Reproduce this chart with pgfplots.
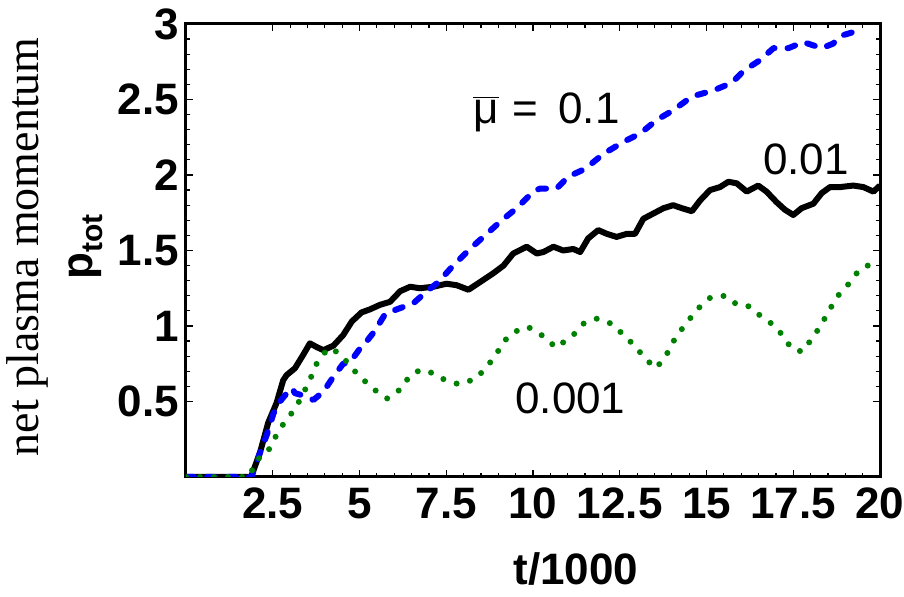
\documentclass[border=0pt]{standalone}
\usepackage{fontspec}
\setmainfont{Liberation Sans}
\newfontfamily\seriffont{Liberation Serif}
\usepackage{pgfplots}
\pgfplotsset{compat=1.18}
\definecolor{mgreen}{rgb}{0,0.5,0}
\begin{document}
\begin{tikzpicture}
\path[use as bounding box] (-93pt,-60pt) rectangle (359pt,238.5pt);
\begin{axis}[
  scale only axis, width=347pt, height=226.5pt,
  xmin=0, xmax=20, ymin=0, ymax=3,
  xtick={2.5,5,7.5,10,12.5,15,17.5,20},
  ytick={0.5,1,1.5,2,2.5,3},
  minor x tick num=4, minor y tick num=4,
  tick align=inside, tick pos=both,
  major tick length=3.5pt, minor tick length=2pt,
  every tick/.style={line width=0.6pt, black},
  axis line style={line width=1.5pt},
  /pgf/number format/assume math mode=true,
  ticklabel style={font=\fontsize{22}{24}\selectfont\bfseries},
  xticklabel style={yshift=-2pt},
  yticklabel style={xshift=0pt},
  clip=true,
]
\addplot[black, line width=3pt, line join=round] coordinates {
(0,0) (1.85,0) (1.89,0.01) (2.13,0.16) (2.37,0.36) (2.61,0.49) (2.80,0.64) (2.90,0.675) (3.14,0.72) (3.38,0.81) (3.57,0.885) (3.77,0.86) (3.96,0.84) (4.25,0.87) (4.53,0.94) (4.78,1.03) (5.06,1.09) (5.30,1.11) (5.59,1.14) (5.88,1.16) (6.17,1.23) (6.46,1.26) (6.74,1.25) (7.13,1.26) (7.51,1.28) (7.80,1.27) (8.14,1.24) (8.47,1.29) (8.86,1.35) (9.15,1.40) (9.43,1.48) (9.82,1.525) (10.11,1.48) (10.30,1.49) (10.59,1.525) (10.87,1.50) (11.16,1.51) (11.36,1.49) (11.59,1.58) (11.88,1.635) (12.13,1.61) (12.41,1.59) (12.70,1.61) (12.94,1.61) (13.18,1.71) (13.47,1.745) (13.76,1.78) (14.04,1.80) (14.29,1.78) (14.58,1.76) (14.81,1.83) (15.10,1.90) (15.39,1.92) (15.63,1.955) (15.87,1.945) (16.16,1.89) (16.49,1.93) (16.73,1.89) (17.02,1.82) (17.26,1.77) (17.50,1.735) (17.74,1.78) (18.08,1.81) (18.32,1.88) (18.56,1.92) (18.85,1.92) (19.23,1.93) (19.52,1.92) (19.81,1.89) (20,1.93)
};
\addplot[blue, line width=3pt, line cap=round, line join=round, dash pattern=on 4pt off 6.5pt] coordinates {
(0,0) (1.88,0) (1.94,0.035) (2.13,0.16) (2.33,0.28) (2.52,0.42) (2.71,0.50) (2.85,0.54) (3.05,0.59) (3.14,0.555) (3.52,0.53) (3.67,0.51) (3.96,0.565) (4.25,0.665) (4.53,0.75) (4.73,0.76) (5.01,0.85) (5.16,0.885) (5.45,0.97) (5.74,1.08) (6.07,1.11) (6.55,1.15) (6.94,1.23) (7.27,1.29) (7.66,1.39) (8.18,1.51) (8.57,1.59) (9.10,1.70) (9.53,1.78) (10.01,1.89) (10.20,1.91) (10.68,1.91) (11.02,1.99) (11.50,2.04) (12.03,2.14) (12.61,2.22) (13.09,2.275) (13.57,2.365) (14.05,2.43) (14.58,2.52) (15.20,2.56) (15.73,2.61) (16.07,2.69) (16.54,2.76) (16.93,2.84) (17.36,2.84) (17.79,2.88) (18.32,2.84) (18.65,2.87) (18.85,2.92) (19.28,2.95) (19.40,2.97)
};
\addplot[mgreen, line width=3pt, line cap=round, dash pattern=on 0pt off 7pt] coordinates {
(0,0) (1.80,0) (2.08,0.12) (2.34,0.16) (2.54,0.25) (2.74,0.33) (3.02,0.415) (3.19,0.47) (3.38,0.555) (3.57,0.64) (3.72,0.735) (3.98,0.82) (4.18,0.856) (4.50,0.80) (4.78,0.72) (5.13,0.64) (5.45,0.575) (5.80,0.52) (6.22,0.587) (6.44,0.67) (6.76,0.71) (7.13,0.687) (7.48,0.64) (7.87,0.614) (8.35,0.65) (8.63,0.72) (8.91,0.80) (9.15,0.896) (9.45,0.96) (9.85,0.995) (10.35,0.925) (10.66,0.856) (11.16,0.94) (11.45,1.015) (11.86,1.05) (12.26,1.015) (12.57,0.95) (12.88,0.88) (13.26,0.78) (13.53,0.72) (13.81,0.79) (13.97,0.87) (14.19,0.95) (14.46,1.03) (14.73,1.11) (15.12,1.19) (15.54,1.20) (15.89,1.14) (16.23,1.13) (16.54,1.07) (16.91,1.01) (17.21,0.935) (17.45,0.85) (17.76,0.83) (18.10,0.935) (18.32,1.015) (18.53,1.10) (18.75,1.19) (19.14,1.29) (19.41,1.375) (19.79,1.415) (19.95,1.43)
};
\node[anchor=base west, inner sep=0pt, font=\fontsize{22}{24}\selectfont] at (axis cs:8.27,2.344) {$\overline{\hbox{μ}}$\hspace{7pt}=\hspace{10pt}0.1};
\node[anchor=base west, inner sep=0pt, font=\fontsize{22}{24}\selectfont] at (axis cs:16.62,2.0) {0.01};
\node[anchor=base west, inner sep=0pt, font=\fontsize{22}{24}\selectfont] at (axis cs:9.48,0.422) {0.001};
\coordinate (YL) at (rel axis cs:0,0.508);
\coordinate (XL) at (rel axis cs:0.562,0);
\end{axis}
\node[rotate=90, inner sep=0pt, font=\fontsize{22}{24}\selectfont\bfseries] at ([xshift=-50pt]YL) {p\raisebox{-5pt}{\fontsize{15}{16}\selectfont tot}};
\node[rotate=90, inner sep=0pt, font=\fontsize{23}{24}\seriffont] at ([xshift=-79.5pt]YL) {net plasma momentum};
\node[inner sep=0pt, font=\fontsize{22}{24}\selectfont\bfseries] at ([yshift=-46pt]XL) {t/1000};
\end{tikzpicture}
\end{document}
